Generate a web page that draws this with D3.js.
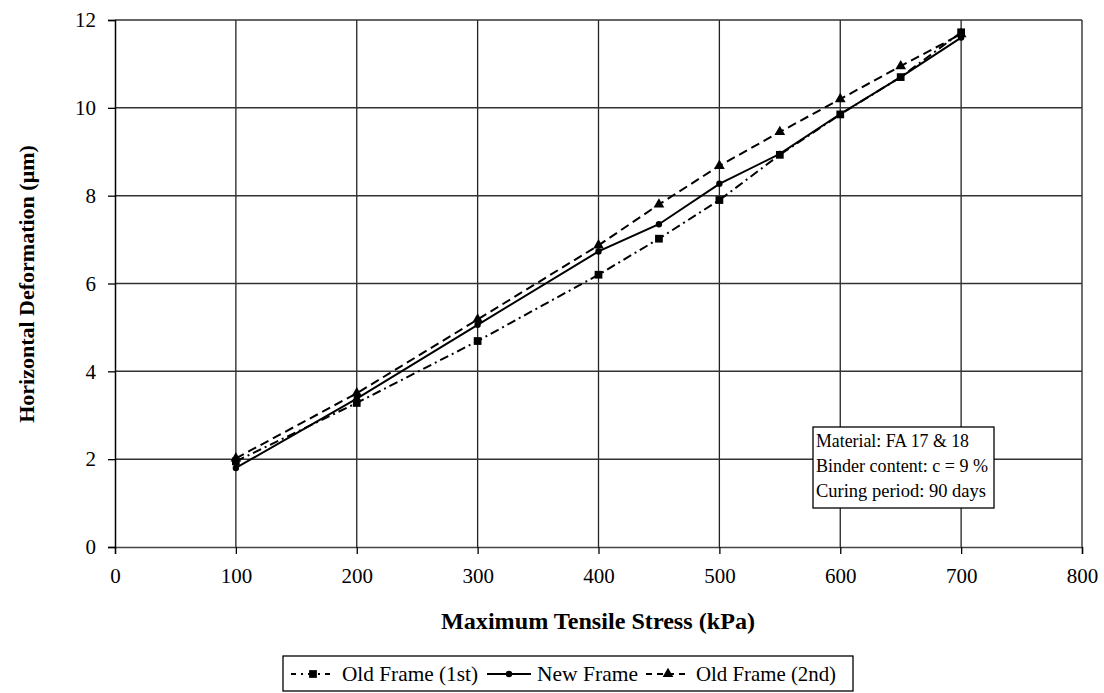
<!DOCTYPE html>
<html><head><meta charset="utf-8">
<script src="https://cdn.jsdelivr.net/npm/d3@7"></script>
<style>body{margin:0;background:#fff;} svg{display:block;}</style>
</head><body>
<svg id="c" width="1104" height="693"></svg>
<script>
const stress = [100, 200, 300, 400, 450, 500, 550, 600, 650, 700];
const oldFrame1 = [1.95, 3.28, 4.69, 6.2, 7.02, 7.9, 8.93, 9.85, 10.7, 11.72];
const newFrame = [1.8, 3.38, 5.06, 6.73, 7.35, 8.27, 8.95, 9.86, 10.7, 11.6];
const oldFrame2 = [2.02, 3.5, 5.18, 6.87, 7.8, 8.68, 9.45, 10.2, 10.95, 11.68];
const seriesNames = ["Old Frame (1st)", "New Frame", "Old Frame (2nd)"];
const xTicks = [0, 100, 200, 300, 400, 500, 600, 700, 800];
const yTicks = [0, 2, 4, 6, 8, 10, 12];
const noteLines = ["Material: FA 17 & 18", "Binder content: c = 9 %", "Curing period: 90 days"];

const svg = d3.select("#c");
const font = "'Liberation Serif', 'Times New Roman', serif";
const L = 115, R = 1082, T = 20, B = 547;
const x = d3.scaleLinear().domain([0, 800]).range([L, R]);
const y = d3.scaleLinear().domain([0, 12]).range([B, T]);

// grid
const g = svg.append("g");
g.selectAll(".vg").data(xTicks.slice(1)).join("line")
  .attr("x1", d => x(d)).attr("x2", d => x(d)).attr("y1", T).attr("y2", B)
  .attr("stroke", "#222").attr("stroke-width", 1.3);
g.selectAll(".hg").data(yTicks.slice(1)).join("line")
  .attr("x1", L).attr("x2", R).attr("y1", d => y(d)).attr("y2", d => y(d))
  .attr("stroke", "#333").attr("stroke-width", 1.5);

// axes
const xAxis = svg.append("g").attr("transform", `translate(0,${B})`)
  .call(d3.axisBottom(x).tickValues(xTicks).tickSize(7).tickPadding(14));
const yAxis = svg.append("g").attr("transform", `translate(${L},0)`)
  .call(d3.axisLeft(y).tickValues(yTicks).tickSize(7).tickPadding(12));
[xAxis, yAxis].forEach(a => {
  a.select(".domain").attr("stroke", "#000").attr("stroke-width", 1.5);
  a.selectAll(".tick line").attr("stroke", "#000").attr("stroke-width", 1.3);
  a.selectAll("text").attr("font-family", font).attr("font-size", 21).attr("fill", "#000");
});
xAxis.select(".domain").attr("stroke", "#444");

// axis titles
svg.append("text").attr("x", 598).attr("y", 629).attr("text-anchor", "middle")
  .attr("font-family", font).attr("font-weight", "bold").attr("font-size", 23)
  .attr("textLength", 314).attr("lengthAdjust", "spacingAndGlyphs")
  .text("Maximum Tensile Stress (kPa)");
svg.append("text").attr("transform", `translate(34,${284}) rotate(-90)`)
  .attr("text-anchor", "middle").attr("font-family", font).attr("font-weight", "bold").attr("font-size", 22)
  .text("Horizontal Deformation (\u03bcm)");

const series = [
  {name: seriesNames[0], vals: oldFrame1, dash: "9,4,2,4", marker: "square"},
  {name: seriesNames[1], vals: newFrame, dash: null, marker: "circle"},
  {name: seriesNames[2], vals: oldFrame2, dash: "9,5", marker: "triangle"}
];
const sym = {square: d3.symbolSquare, circle: d3.symbolCircle, triangle: d3.symbolTriangle};
const size = {square: 60, circle: 32, triangle: 50};
const line = d3.line().x(d => x(d[0])).y(d => y(d[1]));

series.forEach(s => {
  const pts = stress.map((v, i) => [v, s.vals[i]]);
  svg.append("path").attr("d", line(pts)).attr("fill", "none").attr("stroke", "#000")
    .attr("stroke-width", 2).attr("stroke-dasharray", s.dash);
  svg.selectAll(null).data(pts).join("path")
    .attr("transform", d => `translate(${x(d[0])},${y(d[1])})`)
    .attr("d", d3.symbol().type(sym[s.marker]).size(size[s.marker])).attr("fill", "#000");
});

// annotation box
const nb = svg.append("g").attr("transform", "translate(813,427)");
nb.append("rect").attr("width", 181).attr("height", 81).attr("fill", "#fff").attr("stroke", "#000").attr("stroke-width", 1.3);
nb.selectAll("text").data(noteLines).join("text")
  .attr("x", 3).attr("y", (d, i) => 20 + i * 25)
  .attr("font-family", font).attr("font-size", 18).attr("textLength", (d, i) => [153, 172, 170][i])
  .attr("lengthAdjust", "spacingAndGlyphs").text(d => d);

// legend
const lg = svg.append("g").attr("transform", "translate(283,656)");
lg.append("rect").attr("width", 570).attr("height", 35).attr("fill", "#fff").attr("stroke", "#000").attr("stroke-width", 1.3);
const items = [{x0: 8, w: 44, tx: 59, tl: 136}, {x0: 204, w: 44, tx: 254, tl: 101}, {x0: 363, w: 44, tx: 413, tl: 140}];
series.forEach((s, i) => {
  const it = items[i];
  const gi = lg.append("g").attr("transform", `translate(${it.x0},18)`);
  gi.append("line").attr("x1", 0).attr("x2", it.w).attr("y1", 0).attr("y2", 0)
    .attr("stroke", "#000").attr("stroke-width", 2).attr("stroke-dasharray", s.dash ? (i === 0 ? "5,5,2,5" : "6,5") : null);
  gi.append("path").attr("transform", `translate(${it.w / 2},0)`)
    .attr("d", d3.symbol().type(sym[s.marker]).size(size[s.marker])).attr("fill", "#000");
  lg.append("text").attr("x", it.tx).attr("y", 25).attr("font-family", font).attr("font-size", 21)
    .attr("textLength", it.tl).attr("lengthAdjust", "spacingAndGlyphs").text(s.name);
});
</script>
</body></html>
